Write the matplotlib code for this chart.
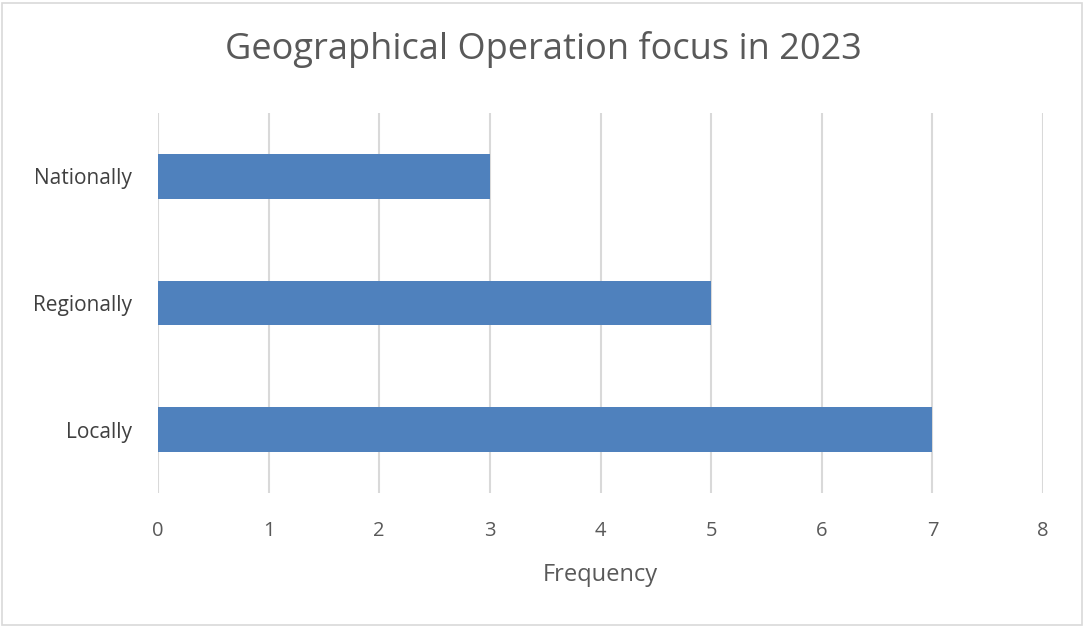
import matplotlib
matplotlib.use("Agg")
import matplotlib.pyplot as plt
from matplotlib.patches import Rectangle

categories = ["Locally", "Regionally", "Nationally"]
values = [7, 5, 3]
xticks = [0, 1, 2, 3, 4, 5, 6, 7, 8]

plt.rcParams['font.family'] = ['Open Sans', 'DejaVu Sans']

fig = plt.figure(figsize=(10.86, 6.26), dpi=100)
ax = fig.add_axes([158/1086, 1-493/626, (1043-158)/1086, (493-113)/626])

ax.barh(range(len(categories)), values, height=0.35, color="#4F81BD", zorder=3)
ax.set_xlim(0, 8)
ax.set_ylim(-0.5, len(categories) - 0.5)
ax.set_xticks(xticks)
ax.set_xticklabels([str(t) for t in xticks], fontsize=14.5, color="#595959")
ax.set_yticks(range(len(categories)))
ax.set_yticklabels(categories, fontsize=15, color="#404040")
ax.tick_params(axis='both', length=0)
ax.tick_params(axis='x', pad=20)
ax.tick_params(axis='y', pad=19)
ax.grid(axis='x', color="#D9D9D9", linewidth=1.5, zorder=0)
for s in ax.spines.values():
    s.set_visible(False)
ax.set_xlabel("Frequency", fontsize=17, color="#595959", labelpad=16)

fig.text(0.5, 1-50/626, "Geographical Operation focus in 2023", ha='center', va='center',
         fontsize=26, color="#595959")

fig.patches.append(Rectangle((0.002, 0.002), 0.994, 0.994, transform=fig.transFigure,
                             fill=False, edgecolor="#D9D9D9", linewidth=1.2))

fig.savefig("out.png", dpi=100)
